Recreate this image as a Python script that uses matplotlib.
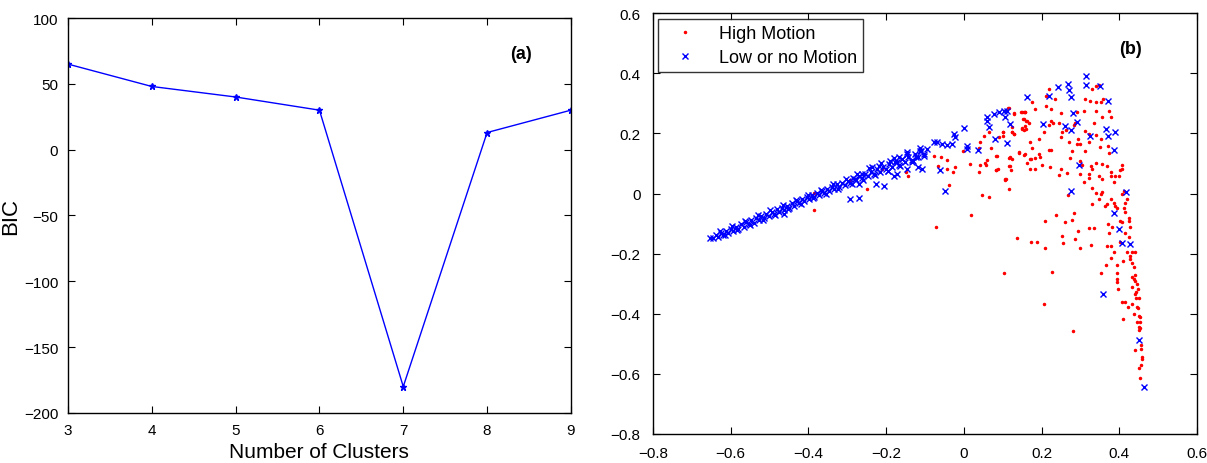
import matplotlib.pyplot as plt
import numpy as np

plt.rcParams['font.family'] = ['Liberation Sans', 'DejaVu Sans']

# (a) BIC vs number of clusters
n_clusters = [3, 4, 5, 6, 7, 8, 9]
bic = [65, 48, 40, 30, -180, 13, 30]

# (b) scatter, values
high_x = [
    0.330, 0.339, 0.349, 0.313, 0.324, 0.339, 0.352, 0.358, 0.175, 0.212, 0.225, 0.114,
    0.128, 0.150, 0.158, 0.182, 0.251, 0.292, 0.309, 0.341, 0.373, 0.380, 0.356, 0.336,
    0.313, 0.322, 0.161, 0.152, 0.154, 0.161, 0.124, 0.124, 0.128, 0.102, 0.225, 0.230,
    0.219, 0.206, 0.244, 0.263, 0.253, 0.249, 0.287, 0.283, 0.294, 0.292, 0.270, 0.300,
    0.279, 0.311, 0.322, 0.339, 0.352, 0.372, 0.373, 0.350, 0.085, 0.117, 0.141, 0.154,
    0.175, 0.193, 0.219, 0.225, 0.194, 0.197, 0.163, 0.174, 0.182, 0.171, 0.182, 0.120,
    0.083, 0.200, 0.223, 0.250, 0.273, 0.300, 0.303, 0.326, 0.339, 0.356, 0.369, 0.330,
    0.322, 0.266, 0.244, 0.298, 0.378, 0.403, 0.408, 0.406, 0.378, 0.389, 0.399, 0.348,
    0.356, 0.386, 0.323, 0.309, 0.108, 0.105, 0.117, 0.330, 0.339, 0.352, 0.356, 0.268,
    0.347, 0.330, 0.363, 0.369, 0.378, 0.386, 0.389, 0.395, 0.408, 0.412, 0.421, 0.416,
    0.412, 0.210, 0.236, 0.260, 0.283, 0.279, 0.137, 0.174, 0.188, 0.253, 0.255, 0.287,
    0.294, 0.300, 0.322, 0.335, 0.326, 0.210, 0.372, 0.373, 0.382, 0.403, 0.408, 0.416,
    0.425, 0.425, 0.416, 0.425, 0.403, 0.369, 0.378, 0.386, 0.380, 0.421, 0.434, 0.440,
    0.427, 0.220, 0.212, 0.234,
    0.104, 0.228, 0.207, 0.281, 0.354, 0.366, 0.395, 0.395, 0.395, 0.395, 0.397, 0.410,
    0.428, 0.428, 0.432, 0.438, 0.440, 0.433, 0.438, 0.440, 0.445, 0.449, 0.433, 0.442,
    0.440, 0.444, 0.451, 0.408, 0.416, 0.423, 0.433, 0.446, 0.448, 0.438, 0.451, 0.453,
    0.453, 0.445, 0.451, 0.453, 0.452, 0.410, 0.455, 0.457, 0.440, 0.459, 0.459, 0.457,
    0.451, 0.453,
    -0.248, -0.210, -0.150, -0.143, -0.076, -0.059, -0.044, -0.067, -0.044, -0.022, -0.028,
    -0.038, -0.071, 0.018, 0.016, -0.003, 0.042, 0.052, 0.040, 0.042, 0.038, 0.055, 0.057,
    0.059, 0.046, 0.064, 0.071, 0.083, 0.083, 0.087, 0.091, 0.066,
    0.115, 0.147, 0.154, 0.128, 0.150, 0.167, 0.158, 0.102, 0.101, 0.124, 0.130, 0.124,
    0.120, 0.143, 0.158, 0.171, 0.169, 0.117, 0.122, 0.107,
    -0.385, -0.385, -0.292, 0.157, 0.155, 0.163, 0.150,
]
high_y = [
    0.349, 0.358, 0.360, 0.314, 0.308, 0.303, 0.305, 0.316, 0.303, 0.292, 0.281, 0.283,
    0.267, 0.272, 0.272, 0.281, 0.267, 0.270, 0.275, 0.275, 0.273, 0.256, 0.255, 0.234,
    0.209, 0.197, 0.242, 0.247, 0.212, 0.214, 0.220, 0.203, 0.197, 0.205, 0.242, 0.236,
    0.229, 0.203, 0.236, 0.212, 0.203, 0.189, 0.236, 0.229, 0.181, 0.164, 0.170, 0.164,
    0.142, 0.142, 0.172, 0.194, 0.181, 0.159, 0.134, 0.156, 0.125, 0.117, 0.136, 0.128,
    0.153, 0.181, 0.145, 0.145, 0.131, 0.120, 0.103, 0.114, 0.117, 0.083, 0.081, 0.092,
    0.079, 0.094, 0.088, 0.081, 0.117, 0.109, 0.094, 0.090, 0.101, 0.098, 0.090, 0.081,
    0.064, 0.068, 0.061, 0.066, 0.073, 0.078, 0.094, 0.081, 0.059, 0.059, 0.057, 0.059,
    0.048, 0.037, 0.053, 0.037, 0.048, 0.045, 0.015, 0.020, 0.003, -0.002, 0.006, -0.005,
    -0.017, -0.035, -0.041, -0.035, -0.019, -0.030, -0.041, -0.047, 0.000, 0.009, -0.019, -0.030,
    -0.047, -0.090, -0.071, -0.096, -0.066, -0.088, -0.148, -0.161, -0.161, -0.141, -0.165, -0.152,
    -0.124, -0.180, -0.115, -0.115, -0.172, -0.180, -0.102, -0.130, -0.113, -0.091, -0.096, -0.063,
    -0.080, -0.091, -0.130, -0.146, -0.161, -0.174, -0.174, -0.194, -0.215, -0.194, -0.196, -0.196,
    -0.110, 0.349, 0.323, 0.316,
    -0.263, -0.260, -0.368, -0.457, -0.263, -0.237, -0.237, -0.265, -0.283, -0.296, -0.318, -0.224,
    -0.207, -0.218, -0.232, -0.246, -0.272, -0.279, -0.285, -0.290, -0.301, -0.316, -0.310, -0.329,
    -0.335, -0.348, -0.349, -0.362, -0.362, -0.376, -0.368, -0.376, -0.382, -0.401, -0.407, -0.410,
    -0.427, -0.429, -0.443, -0.446, -0.454, -0.416, -0.504, -0.518, -0.520, -0.545, -0.551, -0.571,
    -0.579, -0.614,
    0.015, 0.083, 0.070, 0.059, 0.125, 0.123, 0.112, 0.090, 0.081, 0.087, 0.070,
    0.028, -0.113, -0.071, 0.099, 0.141, 0.172, 0.190, 0.150, 0.094, 0.070, 0.103, 0.094,
    0.112, -0.005, -0.013, 0.153, 0.125, 0.078, 0.081, 0.187, 0.205,
    0.283, 0.270, 0.270, 0.264, 0.214, 0.236, 0.225, 0.203, 0.190, 0.203, 0.198, 0.114,
    0.120, 0.139, 0.131, 0.114, 0.170, 0.092, 0.079, 0.048,
    -0.055, 0.001, 0.045, 0.270, 0.247, 0.240, 0.217,
]

low_x = [
    -0.653, -0.638, -0.632, -0.625, -0.619, -0.612, -0.606, -0.599, -0.593, -0.586, -0.580,
    -0.573, -0.567, -0.560, -0.554, -0.547, -0.541, -0.534, -0.528, -0.521, -0.515, -0.508,
    -0.502, -0.495, -0.489, -0.482, -0.476, -0.469, -0.463, -0.456, -0.450, -0.443, -0.437,
    -0.430, -0.424, -0.417, -0.411, -0.404, -0.398, -0.391, -0.385, -0.378, -0.372, -0.365,
    -0.359, -0.352, -0.346, -0.339, -0.333, -0.326, -0.320, -0.313, -0.306, -0.299, -0.292,
    -0.285, -0.278, -0.270, -0.263, -0.255, -0.247, -0.240, -0.232, -0.224, -0.216, -0.208,
    -0.200, -0.192, -0.184, -0.176, -0.168, -0.160, -0.151, -0.143, -0.134, -0.126, -0.118,
    -0.110, -0.102,
    -0.645, -0.628, -0.615, -0.596, -0.583, -0.563, -0.550, -0.531, -0.518, -0.498, -0.486,
    -0.466, -0.453, -0.433, -0.420, -0.401, -0.388, -0.368, -0.355, -0.336, -0.323, -0.303,
    -0.289, -0.274, -0.259, -0.244, -0.228, -0.212, -0.196, -0.180, -0.164, -0.147, -0.130,
    -0.113,
    -0.462, -0.294, -0.271, -0.227, -0.206, -0.237, -0.219, -0.194, -0.181, -0.173, -0.168,
    -0.191, -0.263, -0.281, -0.271,
    -0.160, -0.147, -0.134, -0.124, -0.114, -0.103, -0.095, -0.119, -0.145, -0.173, -0.108,
    -0.077, -0.070, -0.057, -0.044, -0.031, -0.026, -0.023, 0.000, 0.008, 0.008, 0.036,
    0.059, 0.059, 0.065, 0.077, 0.090, 0.103, 0.111, 0.106, 0.080, 0.111, 0.119, -0.062,
    -0.049, 0.163, 0.204, 0.219, 0.243, 0.268, 0.271, 0.276, 0.261, 0.281, 0.292, 0.276,
    0.315, 0.315, 0.351, 0.372, 0.325, 0.366, 0.390, 0.372, 0.387, 0.297, 0.276, 0.418,
    0.387, 0.400, 0.408, 0.428, 0.359, 0.452, 0.464,
]
low_y = [
    -0.148, -0.137, -0.144, -0.131, -0.137, -0.124, -0.130, -0.117, -0.124, -0.110, -0.117,
    -0.103, -0.110, -0.096, -0.103, -0.089, -0.097, -0.082, -0.089, -0.074, -0.082, -0.067,
    -0.075, -0.060, -0.068, -0.053, -0.061, -0.047, -0.054, -0.040, -0.047, -0.033, -0.040,
    -0.026, -0.033, -0.019, -0.026, -0.012, -0.019, -0.005, -0.012, 0.002, -0.005, 0.009,
    0.002, 0.016, 0.009, 0.023, 0.016, 0.030, 0.022, 0.036, 0.029, 0.043, 0.036,
    0.051, 0.044, 0.058, 0.050, 0.066, 0.058, 0.073, 0.066, 0.081, 0.072, 0.089,
    0.080, 0.097, 0.088, 0.106, 0.096, 0.115, 0.104, 0.122, 0.113, 0.130, 0.122,
    0.140, 0.131,
    -0.149, -0.124, -0.138, -0.108, -0.121, -0.091, -0.105, -0.073, -0.088, -0.056, -0.070,
    -0.039, -0.053, -0.022, -0.035, -0.004, -0.016, 0.013, -0.002, 0.030, 0.015, 0.048,
    0.031, 0.066, 0.045, 0.084, 0.060, 0.100, 0.075, 0.118, 0.092, 0.137, 0.108,
    0.152,
    -0.068, -0.019, -0.015, 0.031, 0.025, 0.088, 0.091, 0.074, 0.058, 0.104, 0.121,
    0.108, 0.065, 0.048, 0.031,
    0.114, 0.131, 0.104, 0.121, 0.141, 0.124, 0.148, 0.088, 0.081, 0.065, 0.081,
    0.171, 0.171, 0.164, 0.161, 0.164, 0.198, 0.188, 0.217, 0.158, 0.148, 0.144,
    0.254, 0.241, 0.221, 0.264, 0.271, 0.274, 0.274, 0.254, 0.181, 0.168, 0.230, 0.078,
    0.008, 0.321, 0.230, 0.324, 0.354, 0.364, 0.344, 0.321, 0.224, 0.267, 0.237, 0.211,
    0.390, 0.360, 0.357, 0.307, 0.191, 0.214, 0.204, 0.191, 0.144, 0.094, 0.008, 0.005,
    -0.065, -0.118, -0.165, -0.168, -0.334, -0.487, -0.643,
]

b_ticks = [-0.8, -0.6, -0.4, -0.2, 0, 0.2, 0.4, 0.6]
b_ticklabels = ['\u22120.8', '\u22120.6', '\u22120.4', '\u22120.2', '0', '0.2', '0.4', '0.6']

fig = plt.figure(figsize=(12.07, 4.64), dpi=100)
ax1 = fig.add_axes([0.0563, 0.108, 0.4167, 0.851])
ax2 = fig.add_axes([0.541, 0.0625, 0.4507, 0.907])

# panel (a)
ax1.plot(n_clusters, bic, color='b', lw=1, marker='*', ms=5, mew=1)
ax1.set_xlim(3, 9)
ax1.set_ylim(-200, 100)
ax1.set_xticks(n_clusters)
ax1.set_yticks([-200, -150, -100, -50, 0, 50, 100])
ax1.set_yticklabels(['\u2212200', '\u2212150', '\u2212100', '\u221250', '0', '50', '100'])
ax1.set_xlabel('Number of Clusters', fontsize=15, labelpad=4)
ax1.set_ylabel('BIC', fontsize=16, labelpad=2)
ax1.text(0.9, 0.91, '(a)', transform=ax1.transAxes, fontsize=13, fontweight='bold',
         ha='center', va='center')

# panel (b)
ax2.plot(high_x, high_y, '.', color='r', ms=3, label='High Motion')
ax2.plot(low_x, low_y, 'x', color='b', ms=4.5, mew=1, label='Low or no Motion')
ax2.set_xlim(-0.8, 0.6)
ax2.set_ylim(-0.8, 0.6)
ax2.set_xticks(b_ticks)
ax2.set_xticklabels(b_ticklabels)
ax2.set_yticks(b_ticks)
ax2.set_yticklabels(b_ticklabels)
ax2.text(0.878, 0.915, '(b)', transform=ax2.transAxes, fontsize=13, fontweight='bold',
         ha='center', va='center')
leg = ax2.legend(loc='upper left', fontsize=13, frameon=True, fancybox=False,
                 borderaxespad=0.3, handletextpad=0.8, borderpad=0.35, labelspacing=0.4,
                 handlelength=2.2)
leg.get_frame().set_edgecolor('k')
leg.get_frame().set_linewidth(1)

for ax in (ax1, ax2):
    ax.tick_params(direction='in', top=True, right=True, labelsize=11, length=5)
    for s in ax.spines.values():
        s.set_linewidth(1)
ax1.tick_params(pad=7)
ax2.tick_params(pad=9)

fig.savefig('out.png', dpi=100)
